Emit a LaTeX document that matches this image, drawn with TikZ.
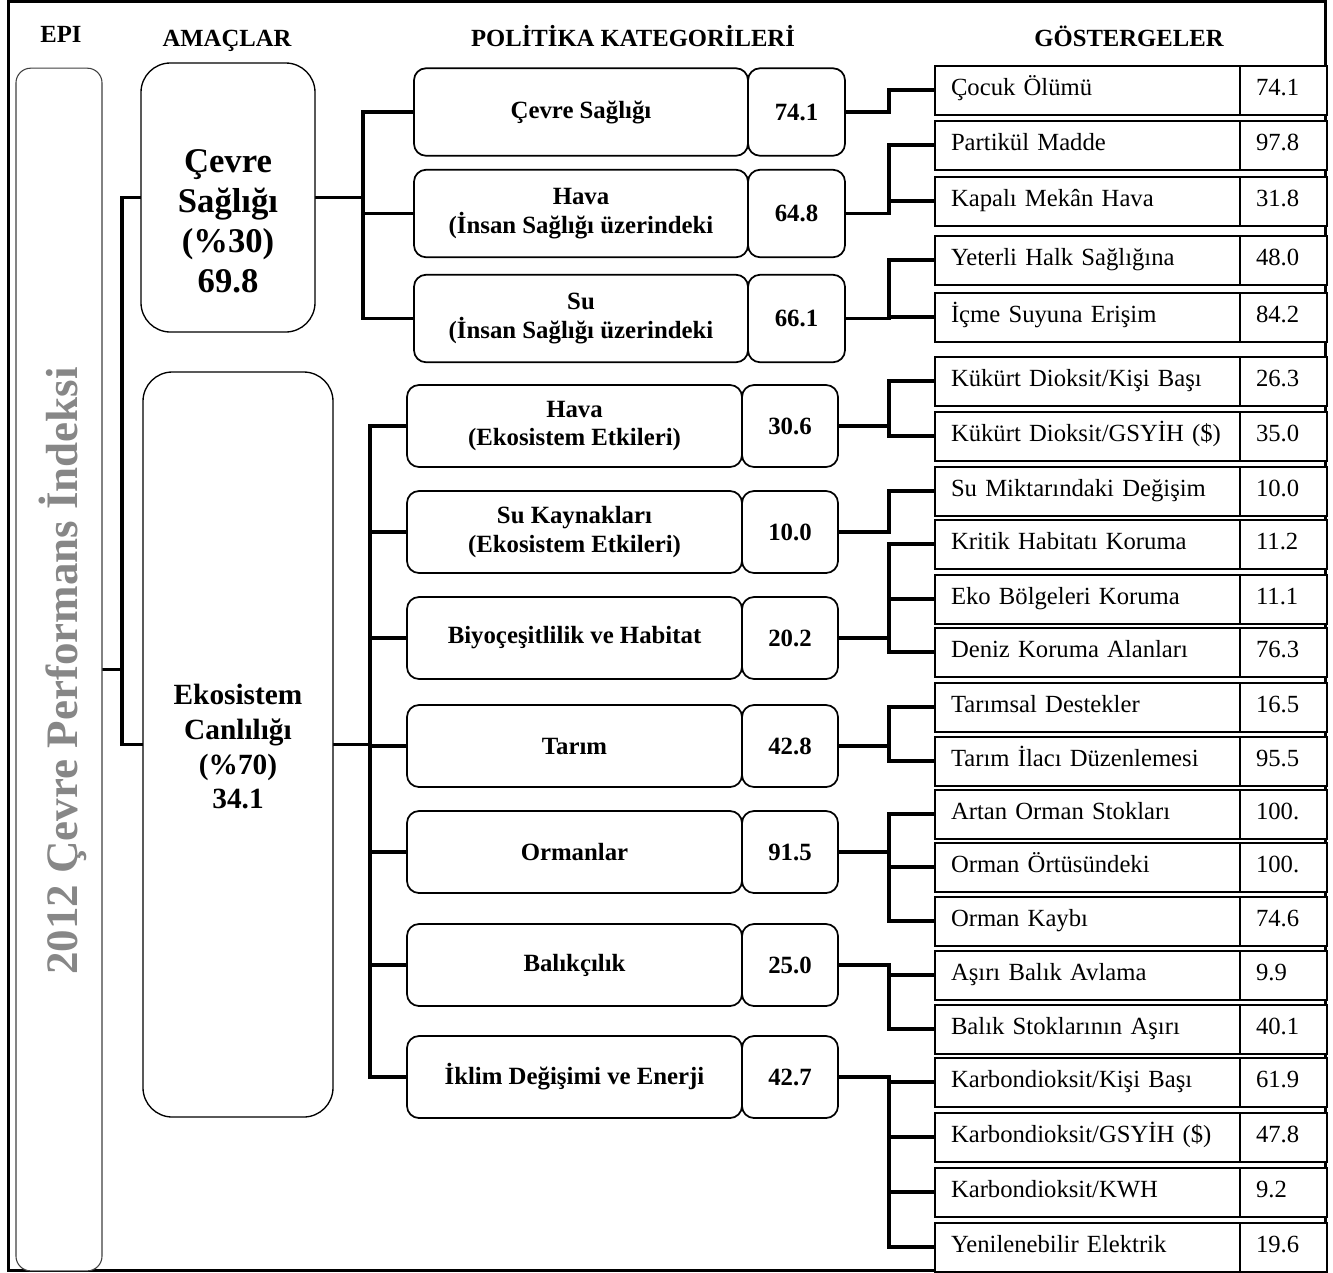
\documentclass[tikz,border=0pt]{standalone}
\usepackage{fontspec}
\setmainfont{Liberation Serif}
\usetikzlibrary{positioning, calc}
\pgfdeclarelayer{background}
\pgfsetlayers{background,main}

\newcommand{\headfont}{\fontsize{18.5pt}{22pt}\selectfont\bfseries}
\newcommand{\catfont}{\fontsize{18.6pt}{21.5pt}\selectfont\bfseries}
\newcommand{\indfont}{\fontsize{18.5pt}{22pt}\selectfont}
\newcommand{\goalfont}{\fontsize{26pt}{30pt}\selectfont\bfseries}
\newcommand{\ecofont}{\fontsize{22pt}{26pt}\selectfont\bfseries}
\newcommand{\epifont}{\fontsize{33.75pt}{40pt}\selectfont\bfseries}

\begin{document}
\begin{tikzpicture}[x=0.75pt, y=-0.75pt,
    link/.style={line width=2.5pt},
    goalbox/.style={draw, fill=white, rounded corners=22pt, line width=1pt, inner sep=0pt, outer sep=0pt},
    catbox/.style={draw, fill=white, rounded corners=9pt, line width=1.3pt, align=center, inner sep=0pt, outer sep=0pt, font=\catfont},
    indbox/.style={draw, fill=white, line width=1.5pt, inner xsep=12pt, inner ysep=0pt, minimum height=36.75pt, align=left, anchor=west, outer sep=0pt, font=\indfont},
    head/.style={anchor=base, font=\headfont}]

  \useasboundingbox (0,0) rectangle (1333,1272);

  % basliklar
  \node[head] (hepi) at (61,42) {EPI};
  \node[head] (hamac) at (227,46) {AMAÇLAR};
  \node[head] (hpol) at (633,46) {POLİTİKA KATEGORİLERİ};
  \node[head] (hgos) at (1129,46) {GÖSTERGELER};

  % EPI
  \node[draw=black!75, fill=white, line width=0.8pt, rounded corners=11pt, minimum width=64.5pt, minimum height=902pt, inner sep=0pt, outer sep=0pt] (epi) at (59,669.5) {};
  \node[rotate=90, text=black!47, font=\epifont] (epitxt) at (63,671) {2012 Çevre Performans İndeksi};

  % amaclar
  \node[goalbox, minimum width=130.5pt, minimum height=201.75pt] (a1) at (228,197.5) {};
  \node[align=center, font=\goalfont] (a1txt) at (228,221) {Çevre\\Sağlığı\\(\%30)\\69.8};
  \node[goalbox, minimum width=142.5pt, minimum height=558.75pt] (a2) at (238,744.5) {};
  \node[align=center, font=\ecofont] (a2txt) at (238,747) {Ekosistem\\Canlılığı\\(\%70)\\34.1};

  % politika kategorileri
  \foreach \k/\yy/\txt/\val in {1/112/{Çevre Sağlığı}/74.1,
      2/213.5/{Hava\\(İnsan Sağlığı üzerindeki}/64.8,
      3/318.5/{Su\\(İnsan Sağlığı üzerindeki}/66.1}{
    \node[catbox, minimum width=250.5pt, minimum height=65.6pt] (c\k) at (581,\yy) {\txt};
    \node[catbox, minimum width=72.75pt, minimum height=65.6pt, right=0pt of c\k] (cv\k) {\val};
  }
  \foreach \k/\yy/\txt/\val in {4/426/{Hava\\(Ekosistem Etkileri)}/30.6,
      5/532/{Su Kaynakları\\(Ekosistem Etkileri)}/10.0,
      6/638/{Biyoçeşitlilik ve Habitat}/20.2,
      7/746/{Tarım}/42.8,
      8/852/{Ormanlar}/91.5,
      9/965/{Balıkçılık}/25.0,
      10/1077/{İklim Değişimi ve Enerji}/42.7}{
    \node[catbox, minimum width=251.25pt, minimum height=61.5pt] (c\k) at (574.5,\yy) {\txt};
    \node[catbox, minimum width=72pt, minimum height=61.5pt, right=0pt of c\k] (cv\k) {\val};
  }

  % gostergeler
  \foreach \yy/\txt/\val [count=\k] in {90/{Çocuk Ölümü}/74.1,
      145/{Partikül Madde}/97.8,
      201/{Kapalı Mekân Hava}/31.8,
      260/{Yeterli Halk Sağlığına}/48.0,
      317/{İçme Suyuna Erişim}/84.2,
      381/{Kükürt Dioksit/Kişi Başı}/26.3,
      436/{Kükürt Dioksit/GSYİH (\$)}/35.0,
      491/{Su Miktarındaki Değişim}/10.0,
      544/{Kritik Habitatı Koruma}/11.2,
      599/{Eko Bölgeleri Koruma}/11.1,
      652/{Deniz Koruma Alanları}/76.3,
      707/{Tarımsal Destekler}/16.5,
      761/{Tarım İlacı Düzenlemesi}/95.5,
      814/{Artan Orman Stokları}/100.,
      867/{Orman Örtüsündeki}/100.,
      921/{Orman Kaybı}/74.6,
      975/{Aşırı Balık Avlama}/9.9,
      1029/{Balık Stoklarının Aşırı}/40.1,
      1082/{Karbondioksit/Kişi Başı}/61.9,
      1137/{Karbondioksit/GSYİH (\$)}/47.8,
      1192/{Karbondioksit/KWH}/9.2,
      1247/{Yenilenebilir Elektrik}/19.6}{
    \node[indbox, text width=204.75pt] (g\k) at (935,\yy) {\strut\txt};
    \node[indbox, text width=41.25pt] (gv\k) at (g\k.east) {\strut\val};
  }

  % baglantilar
  \coordinate (b0) at (122,0);
  \coordinate (b1) at (363,0);
  \coordinate (b2) at (370,0);
  \coordinate (b3) at (889,0);
  \begin{pgfonlayer}{background}
    \draw[line width=2.25pt] (8.5,1.5) rectangle (1325,1270.5);
    \foreach \a in {1,2}
      \draw[link] (epi.east) -- (epi.east -| b0) |- (a\a.west);
    \foreach \c in {1,2,3}
      \draw[link] (a1.east) -- (a1.east -| b1) |- (c\c.west);
    \foreach \c in {4,...,10}
      \draw[link] (a2.east) -- (a2.east -| b2) |- (c\c.west);
    \foreach \c/\k in {1/1, 2/2, 2/3, 3/4, 3/5, 4/6, 4/7, 5/8, 6/9, 6/10, 6/11,
        7/12, 7/13, 8/14, 8/15, 8/16, 9/17, 9/18, 10/19, 10/20, 10/21, 10/22}
      \draw[link] (cv\c.east) -- (cv\c.east -| b3) |- (g\k.west);
  \end{pgfonlayer}
\end{tikzpicture}
\end{document}
